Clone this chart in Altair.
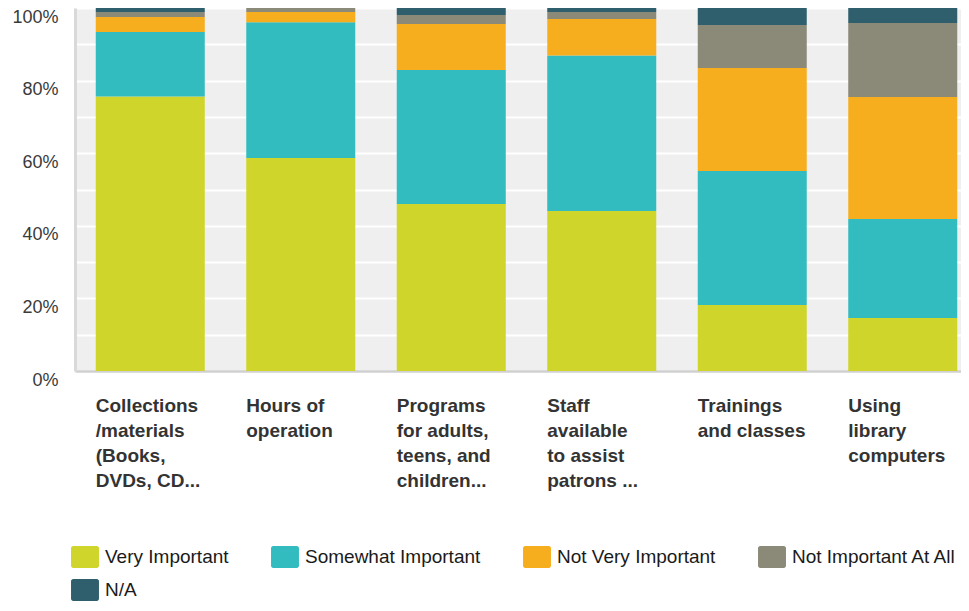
import altair as alt
import pandas as pd

categories = [
    "Collections|/materials|(Books,|DVDs, CD...",
    "Hours of|operation",
    "Programs|for adults,|teens, and|children...",
    "Staff|available|to assist|patrons ...",
    "Trainings|and classes",
    "Using|library|computers",
]
series = ["Very Important", "Somewhat Important", "Not Very Important",
          "Not Important At All", "N/A"]
colors = ["#cfd52a", "#33bcbf", "#f6ae1f", "#8b8a79", "#2f5f6c"]

very_important = [75.6, 58.7, 46.0, 44.1, 18.2, 14.6]
somewhat_important = [17.8, 37.4, 36.9, 42.8, 36.9, 27.3]
not_very_important = [4.1, 2.8, 12.7, 10.1, 28.4, 33.6]
not_important_at_all = [1.4, 1.1, 2.5, 1.9, 11.8, 20.4]
not_applicable = [1.1, 0.0, 1.9, 1.1, 4.7, 4.1]

values = [very_important, somewhat_important, not_very_important,
          not_important_at_all, not_applicable]

rows = []
for si, (name, vals) in enumerate(zip(series, values)):
    for cat, v in zip(categories, vals):
        rows.append({"category": cat, "series": name, "idx": si, "value": v / 100.0})
df = pd.DataFrame(rows)

# rounded rectangle, 28 x 22 px at symbolSize 484 (path box spans -1..1 vertically)
rect_path = ("M-1.07,-1 H1.07 A0.2,0.2 0 0 1 1.27,-0.8 V0.8 "
             "A0.2,0.2 0 0 1 1.07,1 H-1.07 A0.2,0.2 0 0 1 -1.27,0.8 "
             "V-0.8 A0.2,0.2 0 0 1 -1.07,-1 Z")

chart = alt.Chart(df).mark_bar().encode(
    x=alt.X("category:N", sort=categories, title=None,
            scale=alt.Scale(paddingInner=0.2757, paddingOuter=0.0814, align=0.847),
            axis=alt.Axis(labelAngle=0, labelAlign="left", labelOffset=-54.5,
                          labelBaseline="top", labelPadding=25, labelFontSize=19,
                          labelFontWeight="bold", labelColor="#333333",
                          labelLineHeight=25, labelExpr="split(datum.label, '|')",
                          labelOverlap=False, labelBound=False, labelLimit=0,
                          ticks=False, domain=True, domainColor="#d0d0d0",
                          domainWidth=2.5, grid=False)),
    y=alt.Y("value:Q", stack="zero", title=None,
            scale=alt.Scale(domain=[0, 1], nice=False),
            axis=alt.Axis(values=[i / 10 for i in range(11)],
                          labelExpr="round(datum.value*10) % 2 == 0 ? format(datum.value, '.0%') : ''",
                          labelBaseline="top", labelFontSize=18, labelColor="#3a3a3a",
                          labelPadding=17, ticks=False, domain=True,
                          domainColor="#d9d9d9", domainWidth=3,
                          grid=True, gridColor="#ffffff", gridWidth=2,
                          labelBound=False, labelOverlap=False)),
    color=alt.Color("series:N", sort=series,
                    scale=alt.Scale(domain=series, range=colors),
                    legend=alt.Legend(orient="none", legendX=-1, legendY=538,
                                      direction="horizontal", columns=4,
                                      columnPadding=42, rowPadding=11,
                                      symbolType=rect_path, symbolSize=484,
                                      symbolStrokeWidth=0, symbolOpacity=1,
                                      labelFontSize=19, labelOffset=9,
                                      labelColor="#1a1a1a", title=None,
                                      padding=0, labelLimit=0)),
    order=alt.Order("idx:Q", sort="ascending"),
).properties(
    width=886, height=363,
    autosize=alt.AutoSizeParams(type="none"),
    padding={"left": 67, "top": 0, "right": 0, "bottom": 232},
).configure(
    font="Liberation Sans",
).configure_view(
    fill="#efefef", stroke=None,
)

chart.save("out.html", embed_options={"renderer": "svg", "actions": False})
